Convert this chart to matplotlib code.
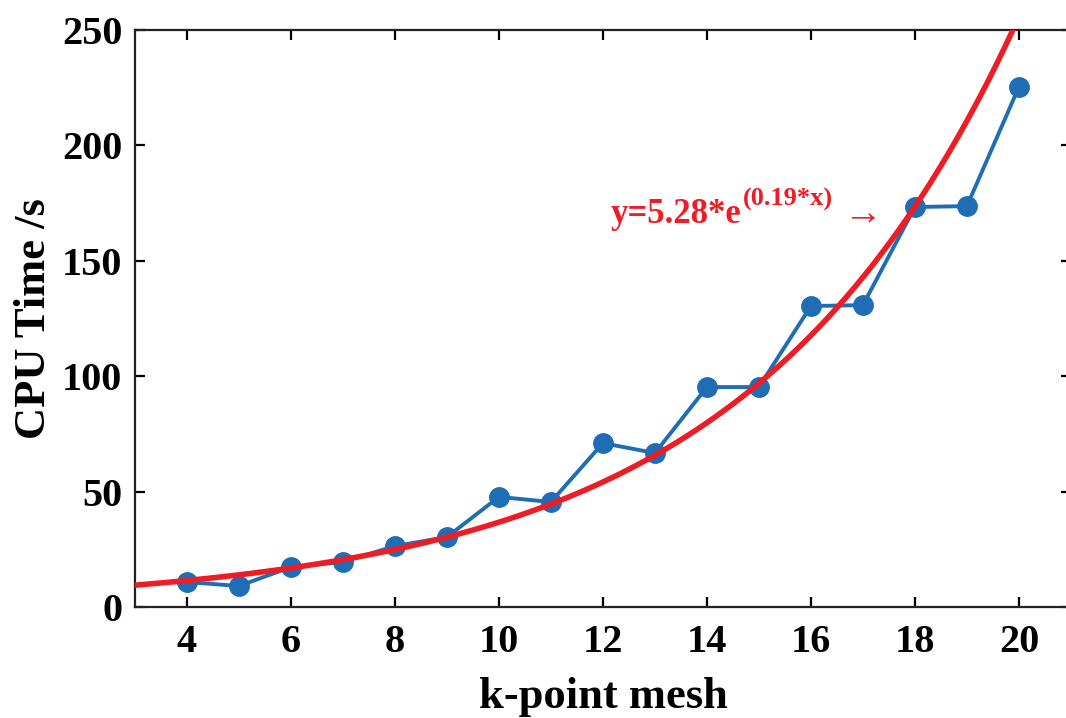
import numpy as np
import matplotlib
matplotlib.use("Agg")
import matplotlib.pyplot as plt

# data
kmesh = [4, 5, 6, 7, 8, 9, 10, 11, 12, 13, 14, 15, 16, 17, 18, 19, 20]
cpu_time = [10.8, 9.1, 17.3, 19.5, 26.4, 30.3, 47.7, 45.5, 71.0, 66.7,
            95.3, 95.3, 130.4, 130.8, 173.3, 173.7, 225.3]

# exponential fit y = a*exp(b*x) (label shows rounded b)
fit_a = 5.28
fit_b = 0.194
fit_base = "y=5.28*e"
fit_exp = "(0.19*x)"

xticks = [4, 6, 8, 10, 12, 14, 16, 18, 20]
yticks = [0, 50, 100, 150, 200, 250]

plt.rcParams['font.family'] = ['Liberation Serif', 'DejaVu Serif']
plt.rcParams['font.weight'] = 'bold'

red = '#ee1c25'
blue = '#1f6eb5'

fig = plt.figure(figsize=(10.66, 7.18), dpi=100)
# axes runs a bit past the right edge, like the cropped original
ax = fig.add_axes([0.1266, 0.1546, 0.878, 0.8036])

ax.plot(kmesh, cpu_time, '-o', color=blue, lw=2.8, ms=14, zorder=2)

xfit = np.linspace(3, 21, 300)
ax.plot(xfit, fit_a * np.exp(fit_b * xfit), color=red, lw=4, zorder=3)

# fit label: base text, raised exponent, then arrow
t1 = ax.text(12.15, 170, fit_base, color=red, fontsize=25,
             fontweight='bold', ha='left', va='center')
t2 = ax.annotate(fit_exp, xy=(1.0, 0.62), xycoords=t1, color=red,
                 fontsize=19, fontweight='bold', ha='left', va='bottom',
                 xytext=(1, 0), textcoords='offset points')
ax.annotate("\u2192", xy=(1.0, 0.5), xycoords=(t2, t1), color=red,
            fontsize=28, ha='left', va='center', xytext=(7, 0),
            textcoords='offset points', fontweight='normal')

ax.set_xlim(3, 21)
ax.set_ylim(0, 250)
ax.set_xticks(xticks)
ax.set_yticks(yticks)
ax.tick_params(direction='in', length=7, width=1.6, top=True, right=True,
               labelsize=29)
ax.tick_params(axis='x', pad=12)
ax.tick_params(axis='y', pad=9)
for s in ax.spines.values():
    s.set_linewidth(1.6)
    s.set_color('#222222')

ax.set_xlabel('k-point mesh', fontsize=32, fontweight='bold', labelpad=12)
ax.set_ylabel('CPU Time /s', fontsize=32, fontweight='bold', labelpad=6)

fig.savefig('out.png', dpi=100)
